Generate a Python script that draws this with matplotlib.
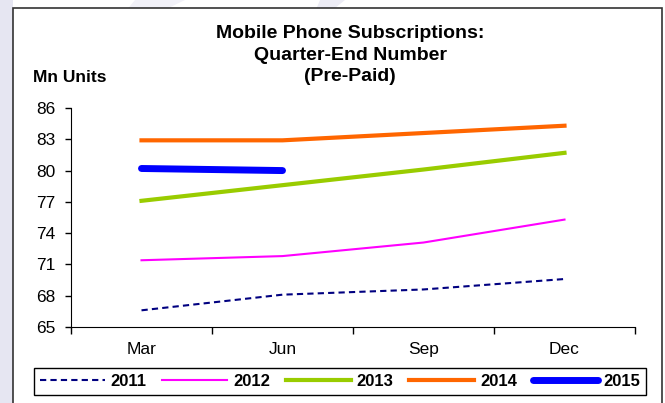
import numpy as np
import matplotlib.pyplot as plt
from matplotlib.patches import Rectangle, Polygon

plt.rcParams['font.family'] = ['Liberation Sans', 'DejaVu Sans']

quartale = ['Mar', 'Jun', 'Sep', 'Dec']
jahre = ['2011', '2012', '2013', '2014', '2015']

werte_2011 = [66.6, 68.1, 68.6, 69.6]
werte_2012 = [71.4, 71.8, 73.1, 75.3]
werte_2013 = [77.1, 78.6, 80.1, 81.7]
werte_2014 = [82.9, 82.9, 83.6, 84.3]
werte_2015 = [80.2, 80.0]

y_ticks = [65, 68, 71, 74, 77, 80, 83, 86]

fig = plt.figure(figsize=(6.65, 4.03), dpi=100)

# Hintergrund: Streifen wie im Original
fig.patches.append(Rectangle((0, 0), 13 / 665, 1, transform=fig.transFigure,
                             facecolor='#e6e6f2', edgecolor='none', zorder=-3))
fig.patches.append(Polygon([(320 / 665, 1), (345 / 665, 1), (330 / 665, 0.97), (315 / 665, 0.97)],
                           closed=True, transform=fig.transFigure,
                           facecolor='#ececf5', edgecolor='none', zorder=-3))
fig.patches.append(Polygon([(135 / 665, 1), (185 / 665, 1), (160 / 665, 0.97), (125 / 665, 0.97)],
                           closed=True, transform=fig.transFigure,
                           facecolor='#f1f1f8', edgecolor='none', zorder=-3))
# Rahmen
fig.patches.append(Rectangle((13 / 665, -0.05), 649 / 665, 1 - 8 / 403 + 0.05,
                             transform=fig.transFigure, facecolor='white',
                             edgecolor='#333333', linewidth=1.2, zorder=-2))

ax = fig.add_axes([71 / 665, 1 - 327 / 403, 564 / 665, 219 / 403])
ax.set_facecolor('none')

x = np.arange(len(quartale))
ax.plot(x, werte_2011, color='#000080', linestyle=(0, (3, 2)), linewidth=1.5, label=jahre[0])
ax.plot(x, werte_2012, color='#ff00ff', linewidth=1.5, label=jahre[1])
ax.plot(x, werte_2013, color='#99cc00', linewidth=3, label=jahre[2])
ax.plot(x, werte_2014, color='#ff6600', linewidth=3, label=jahre[3])
ax.plot(x[:len(werte_2015)], werte_2015, color='#0000ff', linewidth=5,
        solid_capstyle='round', label=jahre[4])

ax.set_xlim(-0.5, len(quartale) - 0.5)
ax.set_ylim(65, 86)
ax.set_yticks(y_ticks)
ax.set_xticks(x)
ax.set_xticklabels(quartale)
ax.set_xticks(np.arange(-0.5, len(quartale), 1.0), minor=True)
ax.tick_params(axis='x', which='major', length=0, labelsize=12.5, pad=11)
ax.tick_params(axis='x', which='minor', length=5, direction='out', width=1)
ax.tick_params(axis='y', length=4, direction='out', width=1, labelsize=12.5, pad=7)
ax.spines['top'].set_visible(False)
ax.spines['right'].set_visible(False)

fig.text(350 / 665, 1 - 55 / 403,
         'Mobile Phone Subscriptions:\nQuarter-End Number\n(Pre-Paid)',
         ha='center', va='center', fontsize=14, fontweight='bold', linespacing=1.32)
fig.text(33 / 665, 1 - 77 / 403, 'Mn Units', ha='left', va='center',
         fontsize=12.5, fontweight='bold')

leg = fig.legend(loc='center', bbox_to_anchor=(340 / 665, 1 - 381.5 / 403), ncol=5,
                 fancybox=False, edgecolor='black', framealpha=1, handlelength=3.9,
                 columnspacing=0.95, handletextpad=0.35, borderpad=0.35,
                 prop={'weight': 'bold', 'size': 12})
leg.get_frame().set_linewidth(1)

fig.savefig('out.png', dpi=100)
